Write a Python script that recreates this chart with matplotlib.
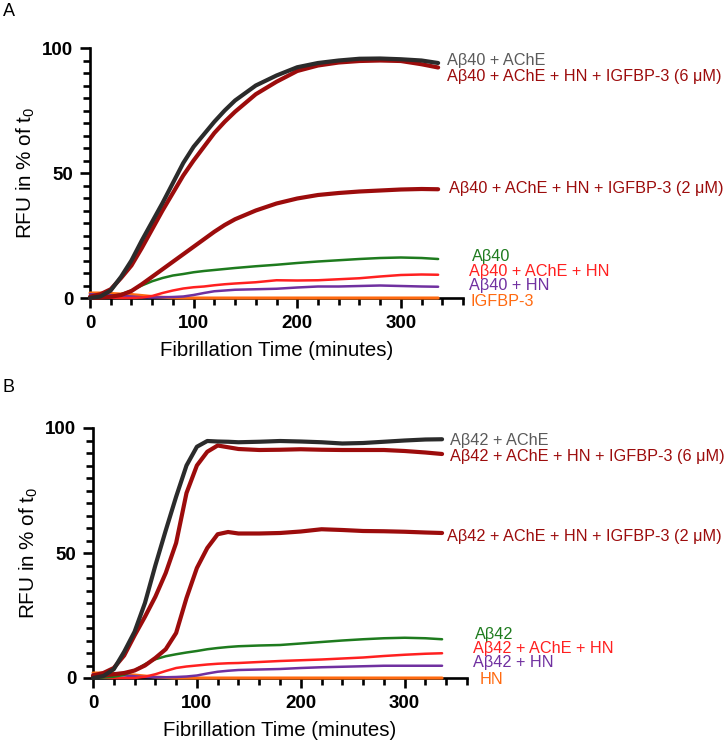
import matplotlib
matplotlib.use("Agg")
import matplotlib.pyplot as plt
from matplotlib.ticker import MultipleLocator

plt.rcParams['font.family'] = ['Liberation Sans', 'DejaVu Sans']

t = [0, 10, 20, 30, 40, 50, 60, 70, 80, 90, 100, 110, 120, 130, 140, 160, 180,
     200, 220, 240, 260, 280, 300, 320, 336]

# Panel A (Abeta40)
a_ache = [0, 0.6, 3, 8.5, 15, 23, 30.5, 38, 46, 54, 60.5, 65.5, 70.5, 75, 79, 85, 89,
          92.3, 94, 95, 95.7, 95.8, 95.5, 95, 94]
a_6um = [0.5, 1.5, 3.5, 8, 13, 20, 27.5, 35, 42, 49, 55, 60.5, 66, 70.5, 74.5, 81.5, 86.5,
         90.8, 93, 94.2, 94.8, 95, 94.8, 93.5, 92.2]
a_2um = [0, 0.2, 0.5, 1.2, 2.8, 5.5, 8.5, 11.5, 14.5, 17.5, 20.5, 23.5, 26.5, 29.2, 31.5, 35, 37.8,
         39.8, 41.2, 42, 42.6, 43, 43.4, 43.6, 43.5]
a_ab = [0, 0.2, 0.6, 1.5, 3, 5, 6.7, 8, 9, 9.6, 10.3, 10.8, 11.2, 11.6, 12, 12.7, 13.3,
        14, 14.6, 15.1, 15.6, 16, 16.2, 16, 15.6]
a_ache_hn = [0.5, 0.3, 0.1, 0, 0, 0.2, 0.8, 2, 3, 3.8, 4.3, 4.6, 5.1, 5.5, 5.8, 6.3, 7.1,
             7, 7.1, 7.5, 7.9, 8.6, 9.2, 9.4, 9.3]
a_hn = [1.5, 1.3, 1.1, 0.9, 0.6, 0.3, 0.2, 0.3, 0.4, 0.6, 1.2, 2, 2.7, 3.0, 3.3, 3.5, 3.7,
        4.2, 4.6, 4.6, 4.8, 5, 4.8, 4.6, 4.5]
a_ctrl = [2, 2, 1.8, 1.6, 1.4, 1.0, 0.6, 0.3, 0.1, 0, 0, 0, 0, 0, 0, 0, 0,
          0, 0, 0, 0, 0, 0, 0, 0]

# Panel B (Abeta42)
b_ache = [0, 0.8, 3.5, 10.5, 18.5, 30, 45, 59, 72.5, 85, 92.5, 94.8, 94.6, 94.5, 94.3, 94.5, 94.8,
          94.6, 94.3, 93.8, 94, 94.5, 95, 95.4, 95.5]
b_6um = [1, 2, 4, 9, 17, 24.5, 32.5, 42, 54, 74, 85, 90.5, 93, 92.3, 91.6, 91.2, 91.3,
         91.5, 91.3, 91.2, 91.2, 91.2, 90.8, 90.2, 89.6]
b_2um = [0.5, 1, 1.5, 2, 3, 5, 8, 11.5, 18, 32, 44, 52, 57.5, 58.4, 57.8, 57.8, 58,
         58.6, 59.5, 59.2, 58.8, 58.7, 58.5, 58.2, 58]
b_ab = [0, 0.2, 0.5, 1.3, 3, 5.5, 7.5, 8.7, 9.5, 10.2, 10.8, 11.5, 12, 12.4, 12.7, 13, 13.2,
        13.8, 14.4, 15, 15.5, 15.9, 16.1, 15.9, 15.5]
b_ache_hn = [0.3, 0.1, 0, 0, 0, 0.5, 1.5, 2.8, 4, 4.6, 5, 5.4, 5.7, 5.9, 6, 6.4, 6.8,
             7.1, 7.4, 7.8, 8.2, 8.8, 9.3, 9.7, 9.9]
b_hn = [1.5, 1.4, 1.2, 1, 0.7, 0.4, 0.3, 0.3, 0.4, 0.6, 1, 1.8, 2.5, 2.9, 3.2, 3.4, 3.6,
        4, 4.3, 4.5, 4.7, 4.9, 4.9, 4.9, 4.9]
b_ctrl = [2, 2, 1.8, 1.5, 1.2, 0.8, 0.4, 0.2, 0, 0, 0, 0, 0, 0, 0, 0, 0,
          0, 0, 0, 0, 0, 0, 0, 0]

labels_a = ["A\u03b240 + AChE", "A\u03b240 + AChE + HN + IGFBP-3 (6 \u03bcM)",
            "A\u03b240 + AChE + HN + IGFBP-3 (2 \u03bcM)", "A\u03b240",
            "A\u03b240 + AChE + HN", "A\u03b240 + HN", "IGFBP-3"]
labels_b = ["A\u03b242 + AChE", "A\u03b242 + AChE + HN + IGFBP-3 (6 \u03bcM)",
            "A\u03b242 + AChE + HN + IGFBP-3 (2 \u03bcM)", "A\u03b242",
            "A\u03b242 + AChE + HN", "A\u03b242 + HN", "HN"]

line_colors = ["#2b2b2b", "#9c0c0c", "#9c0c0c", "#1e7b1e", "#ff2020", "#7030a0", "#ff6a10"]
text_colors = ["#5a5a5a", "#9c0c0c", "#9c0c0c", "#1e7b1e", "#ff2020", "#7030a0", "#ff6a10"]
lws = [3.0, 3.0, 3.0, 1.8, 1.8, 1.8, 2.2]

W, H = 728, 747
fig = plt.figure(figsize=(W / 100, H / 100), dpi=100)

def make_panel(rect, series, labels, label_pos, letter, letter_pos):
    ax = fig.add_axes(rect)
    order = [6, 5, 4, 3, 2, 1, 0]
    for i in order:
        ax.plot(t, series[i], color=line_colors[i], lw=lws[i], clip_on=False,
                solid_capstyle='round', zorder=3 + (7 - i) * 0.01)
    ax.set_xlim(0, 360)
    ax.set_ylim(0, 100)
    ax.xaxis.set_major_locator(MultipleLocator(100))
    ax.xaxis.set_minor_locator(MultipleLocator(20))
    ax.yaxis.set_major_locator(MultipleLocator(50))
    ax.yaxis.set_minor_locator(MultipleLocator(5))
    for s in ['top', 'right']:
        ax.spines[s].set_visible(False)
    for s in ['left', 'bottom']:
        ax.spines[s].set_linewidth(1.9)
    ax.tick_params(which='major', length=7, width=1.9, direction='out', labelsize=13.5, pad=5)
    ax.tick_params(which='minor', length=5, width=1.9, direction='out')
    for lab in ax.get_xticklabels() + ax.get_yticklabels():
        lab.set_fontweight('bold')
    ax.set_xlabel("Fibrillation Time (minutes)", fontsize=14.7, labelpad=7)
    ax.set_ylabel("RFU in % of $\\mathregular{t_0}$", fontsize=14.9, labelpad=4)
    for i, (lx, ly) in enumerate(label_pos):
        fig.text(lx / W, 1 - ly / H, labels[i], color=text_colors[i], fontsize=11.7,
                 va='center', ha='left')
    fig.text(letter_pos[0] / W, 1 - letter_pos[1] / H, letter, fontsize=13, va='center', ha='left')
    return ax

series_a = [a_ache, a_6um, a_2um, a_ab, a_ache_hn, a_hn, a_ctrl]
series_b = [b_ache, b_6um, b_2um, b_ab, b_ache_hn, b_hn, b_ctrl]

pos_a = [(447, 60), (447, 77), (449, 188), (472, 256), (469, 271), (469, 285), (471, 302)]
pos_b = [(450, 440), (450, 456), (447, 536), (475, 635), (473, 649), (473, 663), (480, 680)]

make_panel([90 / W, 1 - 298 / H, 373 / W, 250 / H], series_a, labels_a, pos_a, "A", (3, 11))
make_panel([93 / W, 1 - 678 / H, 374 / W, 250 / H], series_b, labels_b, pos_b, "B", (3, 388))

fig.savefig("out.png", dpi=100)
